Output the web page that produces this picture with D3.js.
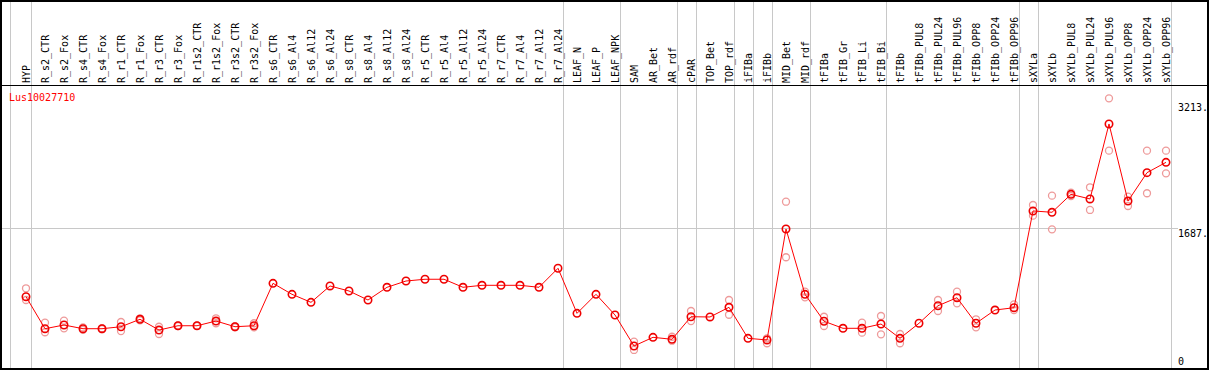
<!DOCTYPE html>
<html>
<head>
<meta charset="utf-8">
<script src="https://cdn.jsdelivr.net/npm/d3@7"></script>
<style>
  body { margin: 0; background: #fff; }
  text { font-family: "DejaVu Sans Mono", monospace; font-size: 10px; }
</style>
</head>
<body>
<svg id="vis" width="1209" height="370"></svg>
<script>
// column labels, left to right
let samples = ["HYP", "R_s2_CTR", "R_s2_Fox", "R_s4_CTR", "R_s4_Fox", "R_r1_CTR", "R_r1_Fox",
    "R_r3_CTR", "R_r3_Fox", "R_r1s2_CTR", "R_r1s2_Fox", "R_r3s2_CTR", "R_r3s2_Fox",
    "R_s6_CTR", "R_s6_Al4", "R_s6_Al12", "R_s6_Al24", "R_s8_CTR", "R_s8_Al4", "R_s8_Al12", "R_s8_Al24",
    "R_r5_CTR", "R_r5_Al4", "R_r5_Al12", "R_r5_Al24", "R_r7_CTR", "R_r7_Al4", "R_r7_Al12", "R_r7_Al24",
    "LEAF_N", "LEAF_P", "LEAF_NPK", "SAM", "AR_Bet", "AR_rdf", "cPAR", "TOP_Bet", "TOP_rdf",
    "iFIBa", "iFIBb", "MID_Bet", "MID_rdf", "tFIBa", "tFIB_Gr", "tFIB_Li", "tFIB_Bi",
    "tFIBb", "tFIBb_PUL8", "tFIBb_PUL24", "tFIBb_PUL96", "tFIBb_OPP8", "tFIBb_OPP24", "tFIBb_OPP96",
    "sXYLa", "sXYLb", "sXYLb_PUL8", "sXYLb_PUL24", "sXYLb_PUL96", "sXYLb_OPP8", "sXYLb_OPP24", "sXYLb_OPP96"];

// mean expression per sample
let means = [856, 469, 514, 469, 469, 493, 583, 453, 505, 505, 562, 493, 505,
    1018, 885, 788, 986, 925, 816, 970, 1046,
    1067, 1067, 970, 994, 994, 994, 970, 1200,
    655, 885, 635, 260, 365, 341, 614, 611, 728,
    353, 333, 1675, 885, 559, 474, 474, 526,
    353, 535, 747, 844, 535, 695, 723,
    1893, 1877, 2094, 2038, 2945, 2013, 2356, 2481];

// replicate values (where they show apart from the mean)
let replicates = [[958, 816], [542, 426], [566, 474], [485, 455], [475, 463], [550, 441], [595, 571],
    [493, 405], [510, 500], [505, 505], [595, 535], [500, 486], [535, 486],
    [], [], [], [], [], [], [], [],
    [], [], [], [], [], [], [], [],
    [], [], [], [312, 212], [], [372, 324], [683, 562], [], [816, 638],
    [], [353, 293], [2005, 1333], [917, 849], [614, 502], [], [542, 421], [623, 401],
    [405, 293], [], [816, 683], [917, 776], [583, 486], [], [764, 695],
    [1965, 1836], [2078, 1671], [2114, 2074], [2179, 1905], [3255, 2622], [2066, 1953], [2622, 2107], [2622, 2348]];

let yTicks = [0, 1687, 3213];
let yTickLabels = ["0", "1687.", "3213."];
// group boundaries drawn after these samples
let groupEnds = ["HYP", "R_r7_Al24", "LEAF_NPK", "AR_rdf", "cPAR", "TOP_rdf", "iFIBa", "iFIBb",
    "MID_rdf", "tFIB_Bi", "tFIBb_OPP96", "sXYLa", "sXYLb_OPP96"];
let geneName = "Lus10027710";

let svg = d3.select("#vis");
let W = 1209, H = 370;
let headerBottom = 85, plotBottom = 368;

let x = d3.scalePoint().domain(samples).range([26, 1166]);
let y = d3.scaleLinear().domain([0, 3213]).range([367.5, 101.8]);

// grey grid
let grid = svg.append("g").attr("stroke", "#c8c8c8").attr("stroke-width", 1).attr("shape-rendering", "crispEdges");
grid.append("line").attr("x1", 10.5).attr("x2", 10.5).attr("y1", 0).attr("y2", plotBottom);
groupEnds.forEach(s => {
    let gx = Math.round(x(s) + 4.5) + 0.5;
    grid.append("line").attr("x1", gx).attr("x2", gx).attr("y1", 0).attr("y2", plotBottom);
});
grid.append("line")
    .attr("x1", 0).attr("x2", 1178)
    .attr("y1", Math.round(y(1687)) + 0.5).attr("y2", Math.round(y(1687)) + 0.5);

// frame
let frame = svg.append("g").attr("stroke", "#000").attr("fill", "none").attr("shape-rendering", "crispEdges");
frame.append("rect").attr("x", 1).attr("y", 0.5).attr("width", 1206.5).attr("height", 368).attr("stroke-width", 2);
frame.append("line").attr("x1", 0).attr("x2", 1208).attr("y1", headerBottom + 0.5).attr("y2", headerBottom + 0.5);

// sample labels, rotated
svg.append("g").selectAll("text")
    .data(samples)
    .enter().append("text")
        .attr("transform", d => `translate(${x(d) + 4}, 83) rotate(-90)`)
        .attr("fill", "#000")
        .text(d => d);

// y tick labels on the right
svg.append("g").selectAll("text")
    .data(yTicks)
    .enter().append("text")
        .attr("x", 1178)
        .attr("y", (d, i) => i == 0 ? 365 : y(d) + 9)
        .attr("fill", "#000")
        .text((d, i) => yTickLabels[i]);

svg.append("text").attr("x", 9).attr("y", 101).attr("fill", "#ff0000").text(geneName);

// replicates
let repPts = [];
samples.forEach((s, i) => replicates[i].forEach(v => repPts.push({s: s, v: v})));
svg.append("g").selectAll("circle")
    .data(repPts)
    .enter().append("circle")
        .attr("cx", d => x(d.s))
        .attr("cy", d => y(d.v))
        .attr("r", 3.5)
        .attr("fill", "none")
        .attr("stroke", "#ee9a9a")
        .attr("stroke-width", 1.3);

// mean line
let line = d3.line().x((d, i) => x(samples[i])).y(d => y(d));
svg.append("path")
    .datum(means)
    .attr("d", line)
    .attr("fill", "none")
    .attr("stroke", "#ff0000")
    .attr("stroke-width", 1);

svg.append("g").selectAll("circle")
    .data(means)
    .enter().append("circle")
        .attr("cx", (d, i) => x(samples[i]))
        .attr("cy", d => y(d))
        .attr("r", 3.7)
        .attr("fill", "none")
        .attr("stroke", "#ee0000")
        .attr("stroke-width", 1.6);
</script>
</body>
</html>
